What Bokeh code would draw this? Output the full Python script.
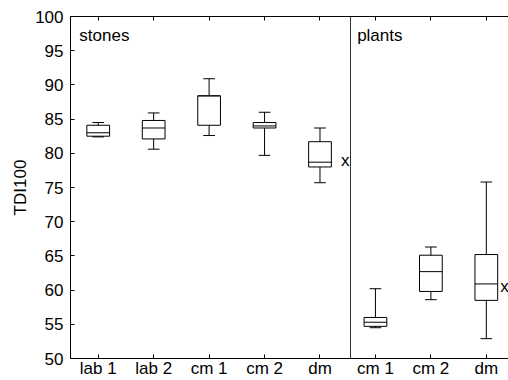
import numpy as np
from bokeh.plotting import figure
from bokeh.models import LinearAxis, FixedTicker, Range1d, Span, Label
from bokeh.core.properties import value
from bokeh.embed import file_html
from bokeh.resources import INLINE

# ---- data ----
groups = ["stones", "plants"]
cats = ["lab 1", "lab 2", "cm 1", "cm 2", "dm", "cm 1", "cm 2", "dm"]
whisk_lo = [82.4, 80.6, 82.6, 79.7, 75.7, 54.5, 58.6, 52.9]
q1 = [82.5, 82.1, 84.1, 83.7, 78.0, 54.7, 59.8, 58.5]
med = [83.0, 83.7, 88.4, 84.0, 78.7, 55.3, 62.7, 60.9]
q3 = [84.1, 84.8, 88.4, 84.5, 81.7, 56.0, 65.1, 65.2]
whisk_hi = [84.5, 85.9, 90.9, 86.0, 83.7, 60.2, 66.3, 75.8]
mark_idx = [5, 8]
mark_vals = [78.9, 60.5]
y_ticks = [50, 55, 60, 65, 70, 75, 80, 85, 90, 95, 100]

FONT = "Liberation Sans"
FS = "17px"

xs = np.arange(1, len(cats) + 1)
bw = 0.41
cw = 0.21

p = figure(frame_width=438, frame_height=342,
           x_range=Range1d(0.5, 8.40), y_range=Range1d(50, 100),
           output_backend="svg", toolbar_location=None,
           x_axis_location=None, y_axis_location=None,
           min_border_left=70, min_border_right=0, min_border_top=16, min_border_bottom=0)
p.outline_line_color = None
for g in p.grid:
    g.visible = False

def style_axis(ax):
    ax.major_tick_in = 4
    ax.major_tick_out = 0
    ax.minor_tick_in = 0
    ax.minor_tick_out = 0
    ax.axis_line_color = "black"
    ax.major_tick_line_color = "black"
    ax.major_label_text_font = FONT
    ax.major_label_text_font_size = FS
    ax.major_label_text_color = "black"
    ax.axis_label_text_font = FONT
    ax.axis_label_text_font_size = FS
    ax.axis_label_text_font_style = "normal"
    ax.axis_label_text_color = "black"

yaxis = LinearAxis(ticker=FixedTicker(ticks=y_ticks))
style_axis(yaxis)
yaxis.axis_label = "TDI100"
yaxis.major_label_standoff = 7
yaxis.axis_label_standoff = 2
p.add_layout(yaxis, "left")

xaxis = LinearAxis(ticker=FixedTicker(ticks=[int(x) for x in xs]),
                   major_label_overrides={int(x): c for x, c in zip(xs, cats)})
style_axis(xaxis)
xaxis.major_label_standoff = 0
p.add_layout(xaxis, "below")

top = LinearAxis(ticker=FixedTicker(ticks=[int(x) for x in xs]),
                 major_label_overrides={int(x): "" for x in xs})
style_axis(top)
top.major_label_standoff = 0
p.add_layout(top, "above")

# boxes
p.vbar(x=xs, width=bw, bottom=q1, top=q3, fill_color="white", line_color="black", line_width=1)
p.segment(x0=xs, y0=whisk_lo, x1=xs, y1=q1, line_color="black", line_width=1)
p.segment(x0=xs, y0=q3, x1=xs, y1=whisk_hi, line_color="black", line_width=1)
p.segment(x0=xs - cw / 2, y0=whisk_lo, x1=xs + cw / 2, y1=whisk_lo, line_color="black", line_width=1)
p.segment(x0=xs - cw / 2, y0=whisk_hi, x1=xs + cw / 2, y1=whisk_hi, line_color="black", line_width=1)
p.segment(x0=xs - bw / 2, y0=med, x1=xs + bw / 2, y1=med, line_color="black", line_width=1)

# "x" marks
mark_off = [0.38, 0.25]
p.text(x=[m + o for m, o in zip(mark_idx, mark_off)], y=mark_vals, text=["x", "x"],
       text_font=value(FONT), text_font_size=FS, text_baseline="middle", text_align="left",
       text_color="black")

# divider
p.add_layout(Span(location=5.55, dimension="height", line_color="#333333", line_width=1))

# group labels
p.add_layout(Label(x=0.66, y=97.2, text=groups[0], text_font=FONT, text_font_size=FS,
                   text_baseline="middle", text_color="black"))
p.add_layout(Label(x=5.67, y=97.2, text=groups[1], text_font=FONT, text_font_size=FS,
                   text_baseline="middle", text_color="black"))

open("out.html", "w").write(file_html(p, INLINE))
